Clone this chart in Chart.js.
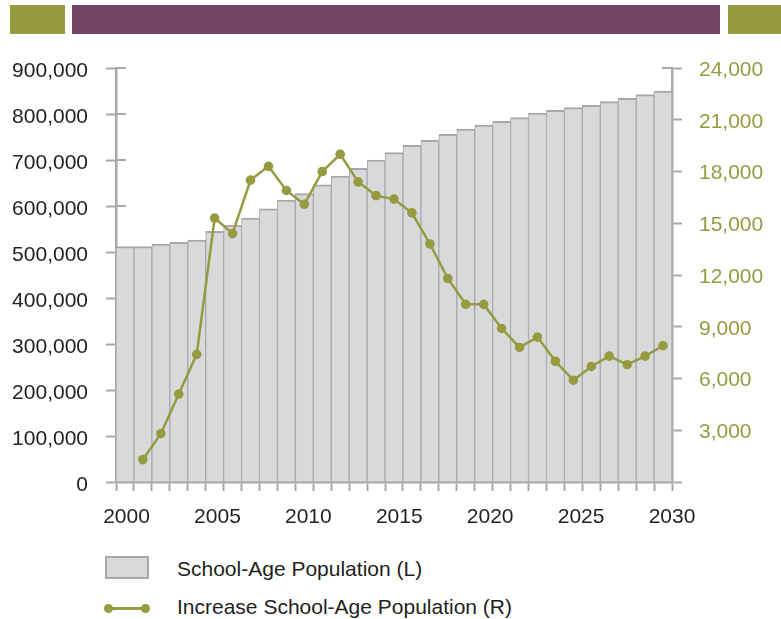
<!DOCTYPE html>
<html>
<head>
<meta charset="utf-8">
<script src="https://cdn.jsdelivr.net/npm/chart.js@4.4.1/dist/chart.umd.min.js"></script>
<style>
  body { margin: 0; background: #fff; width: 781px; height: 619px; overflow: hidden; position: relative;
         font-family: "Liberation Sans", Arial, Helvetica, sans-serif; }
  .hdr { position: absolute; top: 5px; height: 29px; }
  .lgtext { position: absolute; left: 177px; font-size: 21px; line-height: 21px; color: #231f20; white-space: nowrap; }
  .dot { position: absolute; width: 9px; height: 9px; border-radius: 50%; background: #969b40; }
</style>
</head>
<body>
<div class="hdr" style="left:10px;width:55px;background:#969b40"></div>
<div class="hdr" style="left:72px;width:648px;background:#744264"></div>
<div class="hdr" style="left:728px;width:53px;background:#969b40"></div>

<canvas id="chart" width="781" height="530" style="position:absolute;left:0;top:0"></canvas>

<!-- legend -->
<div style="position:absolute;left:105px;top:556px;width:40px;height:19px;border:2px solid #a7a8ab;background:#d8d9db"></div>
<div class="lgtext" style="top:558px">School-Age Population (L)</div>
<div style="position:absolute;left:106px;top:607px;width:42px;height:2.5px;background:#969b40"></div>
<div class="dot" style="left:104px;top:604px"></div>
<div class="dot" style="left:141px;top:604px"></div>
<div class="lgtext" style="top:596px">Increase School-Age Population (R)</div>

<script>
var years = [2000, 2001, 2002, 2003, 2004, 2005, 2006, 2007, 2008, 2009, 2010,
             2011, 2012, 2013, 2014, 2015, 2016, 2017, 2018, 2019, 2020,
             2021, 2022, 2023, 2024, 2025, 2026, 2027, 2028, 2029, 2030];

// school-age population (left axis)
var schoolAgePop = [512000, 512000, 517000, 521000, 526000, 545000, 558000, 574000, 594000, 613000, 627000,
                    646000, 665000, 682000, 700000, 716000, 732000, 743000, 756000, 767000, 776000,
                    784000, 792000, 802000, 808000, 814000, 819000, 827000, 834000, 842000, 850000];

// yearly increase (right axis), no value for 2000
var popIncrease = [null, 1300, 2800, 5100, 7400, 15300, 14400, 17500, 18300, 16900, 16100,
                   18000, 19000, 17400, 16600, 16400, 15600, 13800, 11800, 10300, 10300,
                   8900, 7800, 8400, 7000, 5900, 6700, 7300, 6800, 7300, 7900];

var xLabelYears = [2000, 2005, 2010, 2015, 2020, 2025, 2030];

var axisGray = '#a7a8ab';
var olive = '#969b40';

// tick marks also run a little way into the plot (bars cover most of them)
var innerTicks = {
    id: 'innerTicks',
    beforeDatasetsDraw: function (chart) {
        var ctx = chart.ctx;
        ctx.save();
        ctx.strokeStyle = axisGray;
        ctx.lineWidth = 2;
        ['y', 'y1'].forEach(function (id) {
            var s = chart.scales[id];
            s.ticks.forEach(function (t) {
                if (t.value === 0) return;
                var y = s.getPixelForValue(t.value);
                var x = id === 'y' ? s.right : s.left;
                ctx.beginPath();
                ctx.moveTo(x, y);
                ctx.lineTo(id === 'y' ? x + 10 : x - 10, y);
                ctx.stroke();
            });
        });
        ctx.restore();
    }
};

Chart.defaults.font.family = '"Liberation Sans", Arial, Helvetica, sans-serif';
Chart.defaults.font.size = 21;

new Chart(document.getElementById('chart'), {
    type: 'bar',
    data: {
        labels: years,
        datasets: [
            {
                type: 'line',
                label: 'Increase School-Age Population (R)',
                data: popIncrease,
                yAxisID: 'y1',
                order: 0,
                borderColor: olive,
                backgroundColor: olive,
                borderWidth: 2.5,
                pointRadius: 4.8,
                pointBorderWidth: 0,
                pointBackgroundColor: olive,
                tension: 0
            },
            {
                label: 'School-Age Population (L)',
                data: schoolAgePop,
                yAxisID: 'y',
                order: 1,
                backgroundColor: '#d8d9db',
                borderColor: axisGray,
                borderWidth: { top: 2, left: 1, right: 1, bottom: 0 },
                borderSkipped: 'start',
                categoryPercentage: 1.0,
                barPercentage: 1.0
            }
        ]
    },
    options: {
        responsive: false,
        animation: false,
        devicePixelRatio: 1,
        layout: { padding: { top: 68, left: 0, right: 0, bottom: 0 } },
        plugins: {
            legend: { display: false },
            tooltip: { enabled: false }
        },
        scales: {
            x: {
                type: 'category',
                position: 'bottom',
                offset: true,
                weight: 0,
                grid: { offset: true, drawOnChartArea: false, drawTicks: true, tickLength: 9, tickWidth: 2, tickColor: axisGray, color: axisGray },
                border: { display: true, color: axisGray, width: 2.5 },
                ticks: { display: false },
                afterFit: function (s) { s.height = 9; }
            },
            // year labels sit on their own axis, spread a little wider than the bars
            xl: {
                type: 'linear',
                position: 'bottom',
                weight: 1,
                offset: false,
                min: 1999.42,
                max: 2030,
                grid: { display: false, drawTicks: false, offset: false },
                border: { display: false },
                ticks: {
                    autoSkip: false,
                    color: '#231f20',
                    padding: 14,
                    callback: function (v) { return String(v); }
                },
                afterBuildTicks: function (s) {
                    s.ticks = xLabelYears.map(function (v) { return { value: v }; });
                    s.min = 1999.42;
                    s.max = 2030;
                },
                afterFit: function (s) { s.height = 39; }
            },
            y: {
                position: 'left',
                min: 0,
                max: 900000,
                grid: { drawOnChartArea: false, tickLength: 10, tickWidth: 2, tickColor: axisGray, color: axisGray },
                border: { display: true, color: axisGray, width: 2.5 },
                ticks: {
                    stepSize: 100000,
                    color: '#231f20',
                    padding: 18,
                    labelOffset: 3,
                    callback: function (v) { return v.toLocaleString('en-US'); }
                },
                afterFit: function (s) { s.width = 116; }
            },
            y1: {
                position: 'right',
                min: 0,
                max: 24000,
                grid: { drawOnChartArea: false, tickLength: 10, tickWidth: 2, tickColor: axisGray, color: axisGray },
                border: { display: true, color: axisGray, width: 2.5 },
                ticks: {
                    stepSize: 3000,
                    color: olive,
                    padding: 17,
                    labelOffset: 2,
                    callback: function (v) { return v === 0 ? '' : v.toLocaleString('en-US'); }
                },
                afterFit: function (s) { s.width = 109; }
            }
        }
    },
    plugins: [innerTicks]
});
</script>
</body>
</html>
